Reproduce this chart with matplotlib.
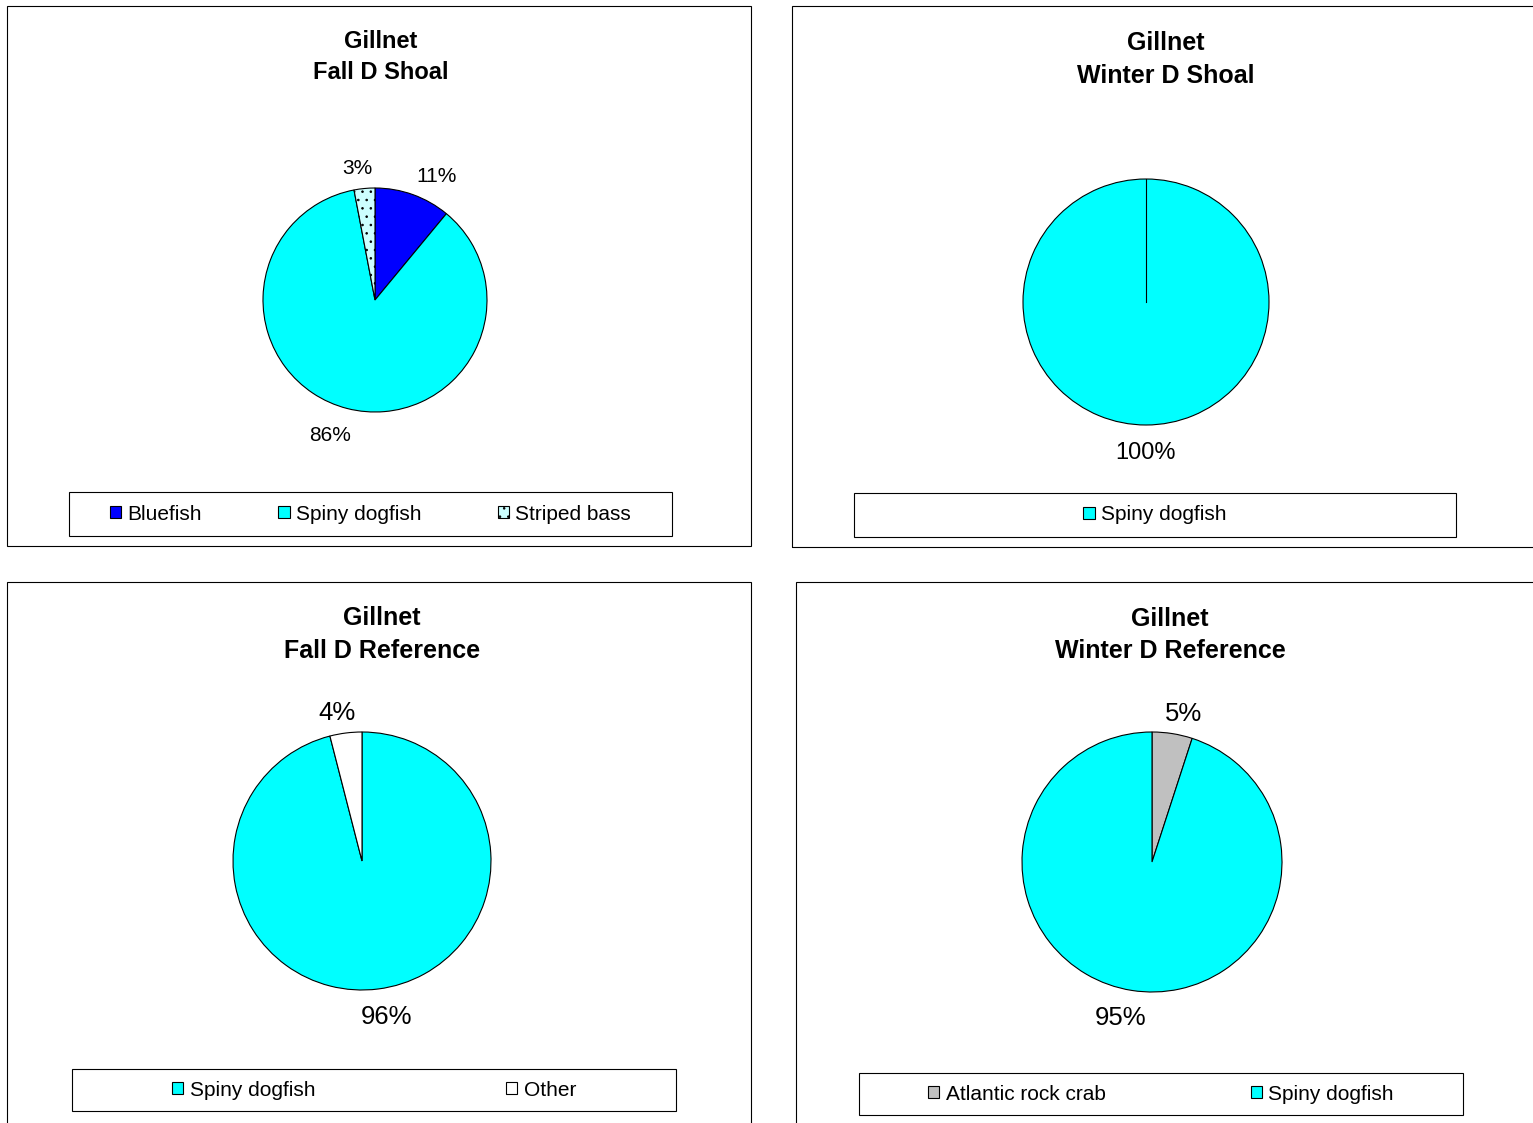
import numpy as np
import matplotlib.pyplot as plt
from matplotlib.patches import Rectangle, Patch

plt.rcParams['font.family'] = ['Liberation Sans', 'DejaVu Sans']
plt.rcParams['hatch.linewidth'] = 0.6

W, H = 1533, 1123

# data
titles = ["Gillnet\nFall D Shoal", "Gillnet\nWinter D Shoal",
          "Gillnet\nFall D Reference", "Gillnet\nWinter D Reference"]
species_fall_shoal = ["Bluefish", "Spiny dogfish", "Striped bass"]
pct_fall_shoal = [11, 86, 3]
species_winter_shoal = ["Spiny dogfish"]
pct_winter_shoal = [100]
species_fall_ref = ["Spiny dogfish", "Other"]
pct_fall_ref = [96, 4]
species_winter_ref = ["Atlantic rock crab", "Spiny dogfish"]
pct_winter_ref = [5, 95]

colors = {"Bluefish": "#0000FF", "Spiny dogfish": "#00FFFF",
          "Striped bass": "#CCFFFF", "Other": "#FFFFFF",
          "Atlantic rock crab": "#C0C0C0"}
hatches = {"Striped bass": ".."}

# layout in pixels
panels = [
    dict(box=(7, 6, 751, 546), pie=(375, 300, 112), title=(381, 57, 17),
         leg=(69, 492, 672, 536), inset=41, lab=15),
    dict(box=(792, 6, 1545, 547), pie=(1146, 302, 123), title=(1166, 59.5, 18),
         leg=(854, 493, 1456, 537), inset=0, lab=17),
    dict(box=(7, 582, 751, 1135), pie=(362, 861, 129), title=(382, 634.5, 18),
         leg=(72, 1069, 676, 1111), inset=100, lab=18.5),
    dict(box=(796, 582, 1545, 1135), pie=(1152, 862, 130), title=(1170, 635, 18),
         leg=(859, 1073, 1463, 1115), inset=69, lab=18.5),
]
data = [(species_fall_shoal, pct_fall_shoal), (species_winter_shoal, pct_winter_shoal),
        (species_fall_ref, pct_fall_ref), (species_winter_ref, pct_winter_ref)]

fig = plt.figure(figsize=(W / 100, H / 100), dpi=100)


def fx(x):
    return x / W


def fy(y):
    return 1 - y / H


for p, title, (names, vals) in zip(panels, titles, data):
    x0, y0, x1, y1 = p["box"]
    fig.add_artist(Rectangle((fx(x0), fy(y1)), fx(x1 - x0), (y1 - y0) / H,
                             transform=fig.transFigure, fill=False,
                             edgecolor='black', linewidth=0.8))
    tx, ty, ts = p["title"]
    fig.text(fx(tx), fy(ty), title, ha='center', va='center', fontsize=ts,
             fontweight='bold', linespacing=1.45)

    cx, cy, r = p["pie"]
    ax = fig.add_axes([fx(cx - r), fy(cy + r), 2 * r / W, 2 * r / H])
    wedges, texts, autotexts = ax.pie(
        vals, colors=[colors[n] for n in names], startangle=90,
        counterclock=False, autopct='%1.0f%%', pctdistance=1.2,
        wedgeprops=dict(edgecolor='black', linewidth=0.8),
        textprops=dict(fontsize=p["lab"]))
    # place labels outside the way the spreadsheet does
    for w, t in zip(wedges, autotexts):
        mid = np.deg2rad((w.theta1 + w.theta2) / 2)
        dx, dy = np.cos(mid), np.sin(mid)
        t.set_position((dx * (1 + 70 / r), dy * (1 + 24 / r) - 4 / r))
    for w, n in zip(wedges, names):
        if n in hatches:
            w.set_hatch(hatches[n])
    if len(vals) == 1:
        ax.plot([0, 0], [0, 1], color='black', linewidth=0.8)
    ax.set_xlim(-1, 1)
    ax.set_ylim(-1, 1)
    ax.set_aspect('equal')
    ax.axis('off')

    lx0, ly0, lx1, ly1 = p["leg"]
    fig.add_artist(Rectangle((fx(lx0), fy(ly1)), fx(lx1 - lx0), (ly1 - ly0) / H,
                             transform=fig.transFigure, fill=False,
                             edgecolor='black', linewidth=0.8))
    handles = [Patch(facecolor=colors[n], edgecolor='black', linewidth=0.8,
                     hatch=hatches.get(n)) for n in names]
    ins = p["inset"]
    if len(names) > 1:
        fig.legend(handles, names, loc='center', ncol=len(names), mode='expand',
                   bbox_to_anchor=(fx(lx0 + ins), fy(ly1), fx(lx1 - lx0 - 2 * ins),
                                   (ly1 - ly0) / H),
                   bbox_transform=fig.transFigure, frameon=False, fontsize=15,
                   borderpad=0, borderaxespad=0, handlelength=0.55,
                   handleheight=0.5, handletextpad=0.3)
    else:
        fig.legend(handles, names, loc='center',
                   bbox_to_anchor=(fx((lx0 + lx1) / 2), fy((ly0 + ly1) / 2)),
                   bbox_transform=fig.transFigure, frameon=False, fontsize=15,
                   borderpad=0, borderaxespad=0, handlelength=0.55,
                   handleheight=0.5, handletextpad=0.3)

fig.savefig("out.png", dpi=100, facecolor='white')
